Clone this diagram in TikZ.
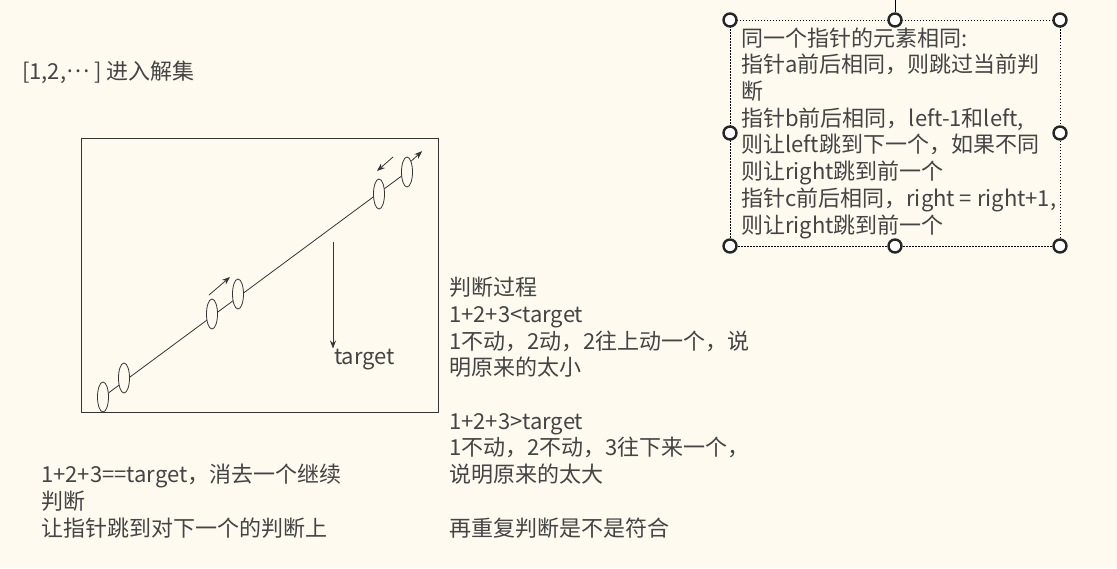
\documentclass[tikz,border=0pt]{standalone}
\usepackage{fontspec}
\setmainfont{Noto Sans CJK SC}
\usetikzlibrary{arrows.meta,shapes.geometric}
\definecolor{paper}{RGB}{254,250,240}
\definecolor{inkgray}{RGB}{68,68,68}
\definecolor{linegray}{RGB}{52,52,52}

\begin{document}
\begin{tikzpicture}[x=1pt,y=-1pt,
    txt/.style={anchor=base west, inner sep=0pt, align=left, text=inkgray,
        font=\fontsize{22}{26.7}\selectfont},
    ptr/.style={ellipse, draw=linegray, fill=paper, line width=0.8pt,
        minimum width=11pt, minimum height=30pt, inner sep=0pt},
    handle/.style={circle, draw=black!85, fill=white, line width=2.4pt,
        minimum size=13pt, inner sep=0pt},
    mv/.style={draw=linegray, line width=0.8pt, -{Stealth[length=8pt,width=6pt]}}]
    \fill[paper] (0,0) rectangle (1117,568);
    \useasboundingbox (0,0) rectangle (1117,568);

    % top left
    \node[txt] (sol) at (22,79) {[1,2,\raisebox{0.3em}{…} ] 进入解集};

    % pointer sketch
    \draw[linegray, line width=0.8pt] (81,138) rectangle (438,412);
    \draw[linegray, line width=0.8pt] (103,397) -- (407,172);
    \node[ptr] (a1) at (103,397) {};
    \node[ptr] (a2) at (124,378) {};
    \node[ptr] (b1) at (212,314) {};
    \node[ptr] (b2) at (238,294) {};
    \node[ptr] (c1) at (379,194) {};
    \node[ptr] (c2) at (407,172) {};
    \coordinate (bup) at (209,295);
    \coordinate (cdown) at (393,157);
    \draw[mv] (bup) -- ++(21,-18);
    \draw[mv] (cdown) -- ++(-16,14);
    \draw[mv] (c2.north east) -- ++(11,-10);
    \coordinate (tgttop) at (333,242);
    \node[txt] (tgt) at (334,364) {target};
    \draw[mv] (tgttop) -- (tgttop |- tgt.north);

    % selected note (base = last line)
    \draw[black, line width=0.8pt, dash pattern=on 1.5pt off 1.5pt]
        (730,20) rectangle (1060,246);
    \node[txt] (note) at (741,233) {同一个指针的元素相同:\\
        指针a前后相同，则跳过当前判\\
        断\\
        指针b前后相同，left-1和left,\\
        则让left跳到下一个，如果不同\\
        则让right跳到前一个\\
        指针c前后相同，right = right+1,\\
        则让right跳到前一个};
    \coordinate (rot) at (895,0);
    \node[handle] (htm) at (895,20) {};
    \draw[black, line width=1pt] (htm) -- (rot);
    \node[handle] (htl) at (730,20) {};
    \node[handle] (htr) at (1060,20) {};
    \node[handle] (hml) at (730,133) {};
    \node[handle] (hmr) at (1060,133) {};
    \node[handle] (hbl) at (730,246) {};
    \node[handle] (hbm) at (895,246) {};
    \node[handle] (hbr) at (1060,246) {};

    % process text
    \node[txt] (proc) at (449,536) {判断过程\\
        1+2+3<target\\
        1不动，2动，2往上动一个，说\\
        明原来的太小\\[26.7pt]
        1+2+3>target\\
        1不动，2不动，3往下来一个，\\
        说明原来的太大\\[26.7pt]
        再重复判断是不是符合};

    \node[txt] (hit) at (41,536) {1+2+3==target，消去一个继续\\
        判断\\
        让指针跳到对下一个的判断上};
\end{tikzpicture}
\end{document}
